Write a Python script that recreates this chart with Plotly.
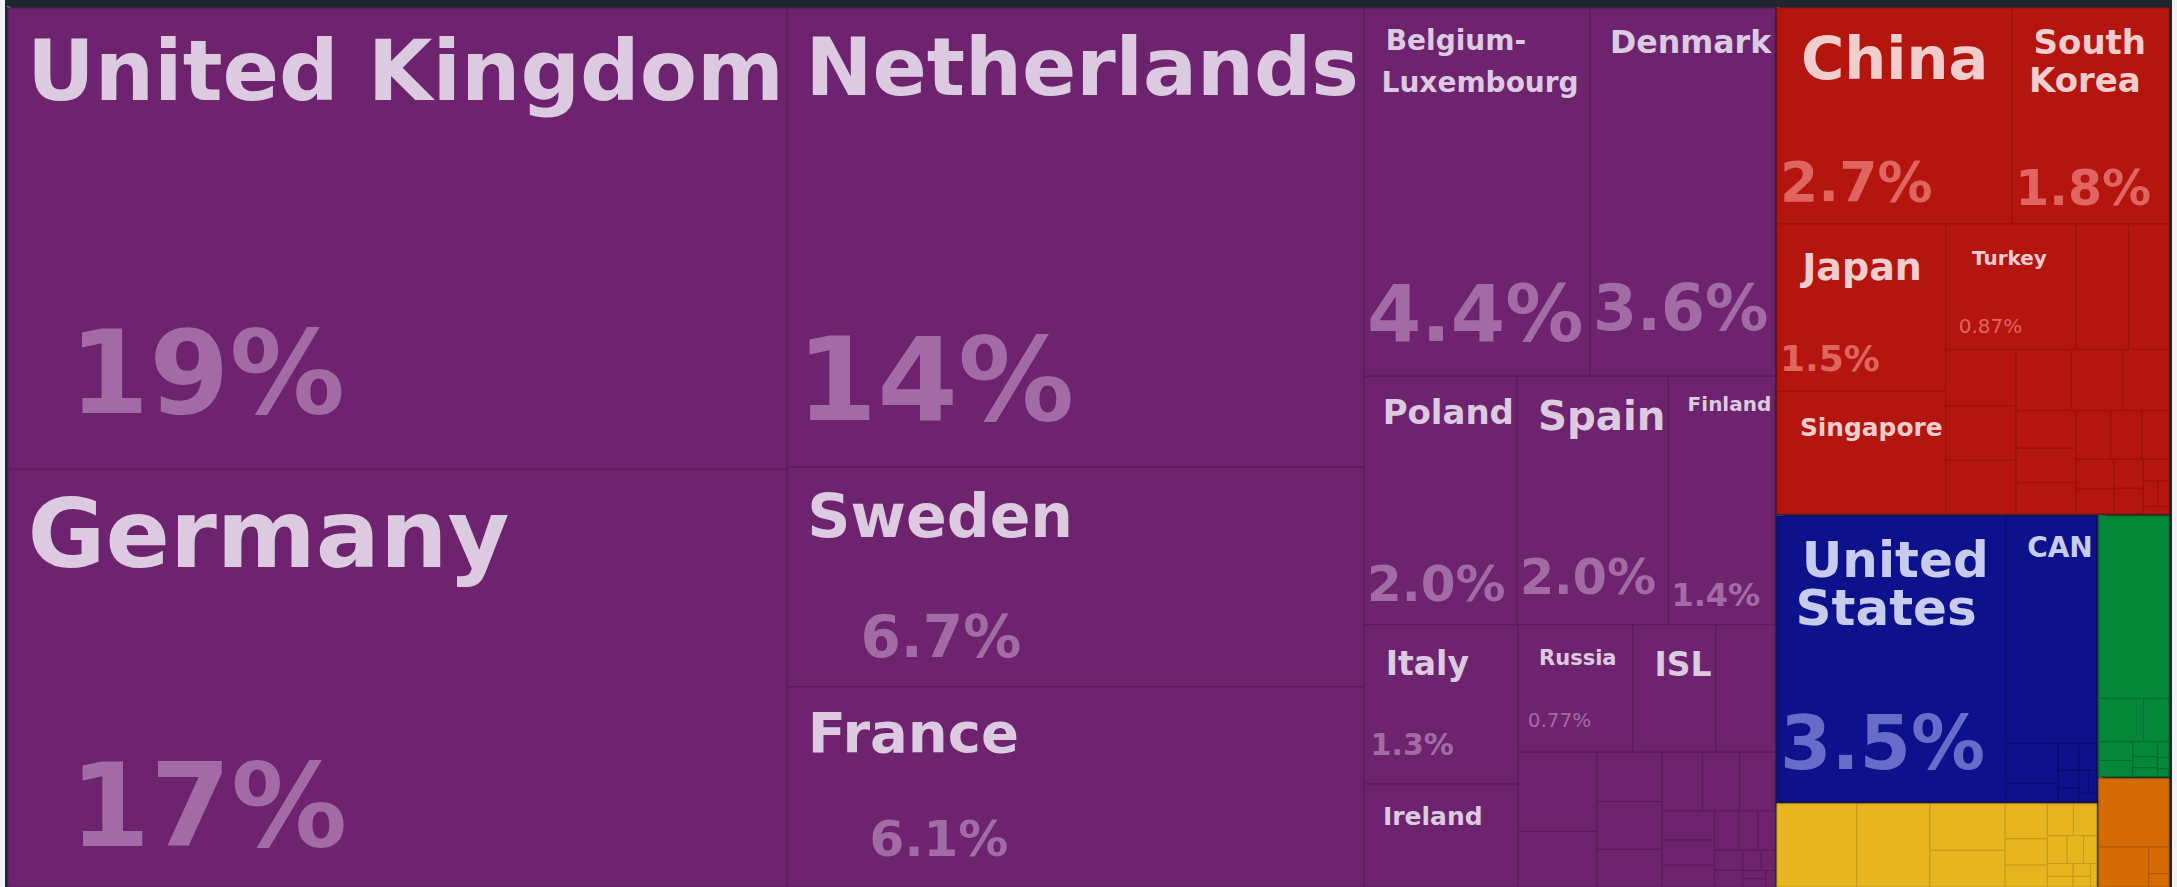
import math
import plotly.graph_objects as go

# ---------------- data ----------------
root_name = "World"
regions = ["Europe", "Asia", "North America", "Africa", "South America", "Oceania"]

europe_countries = ["United Kingdom", "Germany", "Netherlands", "Sweden", "France",
                    "Belgium-Luxembourg", "Denmark", "Poland", "Spain", "Finland", "Italy",
                    "Ireland", "Russia", "Iceland", "Switzerland", "Portugal", "Austria",
                    "Lithuania", "Estonia", "Latvia", "Czechia", "Greece", "Ukraine",
                    "Hungary", "Romania", "Slovakia", "Croatia", "Malta", "Slovenia",
                    "Bulgaria", "Gibraltar", "Belarus", "Serbia", "Albania",
                    "Bosnia and Herzegovina", "Moldova"]
europe_values = [19.0, 17.2, 14.0, 6.7, 6.1,
                 4.4, 3.6, 2.01, 1.99, 1.4, 1.3,
                 0.84, 0.77, 0.56, 0.40, 0.33, 0.23,
                 0.17, 0.165, 0.13, 0.125, 0.115, 0.11,
                 0.08, 0.07, 0.06, 0.05, 0.04, 0.035,
                 0.03, 0.025, 0.02, 0.015, 0.01,
                 0.01, 0.008]

asia_countries = ["China", "South Korea", "Japan", "Singapore", "Turkey", "India",
                  "Hong Kong", "Taiwan", "Israel", "Thailand", "Saudi Arabia", "Malaysia",
                  "Indonesia", "United Arab Emirates", "Iran", "Philippines", "Pakistan",
                  "Vietnam", "Kuwait", "Qatar", "Bangladesh", "Sri Lanka", "Jordan",
                  "Oman", "Lebanon", "Cyprus", "Syria"]
asia_values = [2.7, 1.8, 1.5, 1.1, 0.87, 0.35,
               0.27, 0.21, 0.205, 0.20, 0.18, 0.167,
               0.15, 0.12, 0.11, 0.10, 0.09,
               0.08, 0.07, 0.06, 0.05, 0.045, 0.04,
               0.03, 0.02, 0.015, 0.01]

north_america_countries = ["United States", "Canada", "Mexico", "Panama", "Costa Rica",
                           "Guatemala", "Dominican Republic", "Jamaica",
                           "Trinidad and Tobago", "Honduras", "Cuba"]
north_america_values = [3.5, 1.1, 0.11, 0.05, 0.03,
                        0.025, 0.02, 0.015,
                        0.012, 0.01, 0.008]

africa_countries = ["South Africa", "Nigeria", "Egypt", "Morocco", "Algeria", "Angola",
                    "Ghana", "Kenya", "Tunisia", "Cote d'Ivoire", "Senegal", "Cameroon",
                    "Liberia", "Tanzania", "Mozambique", "Namibia", "Gabon"]
africa_values = [0.36, 0.33, 0.19, 0.15, 0.08, 0.06,
                 0.05, 0.045, 0.04, 0.03, 0.025, 0.02,
                 0.018, 0.015, 0.012, 0.01, 0.008]

south_america_countries = ["Brazil", "Chile", "Argentina", "Venezuela", "Colombia", "Peru",
                           "Ecuador", "Uruguay", "Guyana", "Paraguay", "Bolivia"]
south_america_values = [0.70, 0.106, 0.06, 0.035, 0.03, 0.02,
                        0.015, 0.012, 0.01, 0.007, 0.005]

oceania_countries = ["Australia", "New Zealand", "Papua New Guinea", "Fiji"]
oceania_values = [0.265, 0.11, 0.03, 0.015]

region_members = {
    "Europe": (europe_countries, europe_values),
    "Asia": (asia_countries, asia_values),
    "North America": (north_america_countries, north_america_values),
    "Africa": (africa_countries, africa_values),
    "South America": (south_america_countries, south_america_values),
    "Oceania": (oceania_countries, oceania_values),
}

# display text for labelled tiles
short_names = {"Iceland": "ISL", "Canada": "CAN"}
wrapped_names = {"Belgium-Luxembourg": ["Belgium-", "Luxembourg"],
                 "South Korea": ["South", "Korea"],
                 "United States": ["United", "States"]}

# ---------------- styles ----------------
frame_color = "#20262e"
page_color = "#f1f1f4"
region_fill = {"Europe": "#6e236f", "Asia": "#b5150f", "North America": "#0d118b",
               "Africa": "#e7b520", "South America": "#05873a", "Oceania": "#d46b03"}
region_line = {"Europe": "#5a1b5c", "Asia": "#9a110b", "North America": "#0a0d6c",
               "Africa": "#c99a18", "South America": "#046a2d", "Oceania": "#ad5702"}
name_color = {"Europe": "#dccae0", "Asia": "#f1cdcd", "North America": "#c8ccec",
              "Africa": "#fff3d0", "South America": "#cdeed8", "Oceania": "#ffe0c0"}
pct_color = {"Europe": "#a36ba5", "Asia": "#e0645f", "North America": "#666cc8",
             "Africa": "#f4d070", "South America": "#60c080", "Oceania": "#f0a050"}

# name px, pct px (0 = none), line spacing px, blank lines before pct,
# first-line strut px, name indent px, pct indent px, bold pct
label_styles = {
    "United Kingdom": (84, 116, 121, 2, 97, 7, 64, True),
    "Germany": (95, 116, 107, 2, 102, 7, 64, True),
    "Netherlands": (80, 116, 125, 2, 90, 7, 7, True),
    "Sweden": (60, 58, 46, 2, 72, 11, 77, True),
    "France": (56, 50, 40, 2, 67, 12, 87, True),
    "Belgium-Luxembourg": (28, 78, 32, 6, 42, 16, 0, True),
    "Denmark": (32, 64, 108, 2, 45, 14, 0, True),
    "Poland": (34, 50, 68, 2, 48, 12, 0, True),
    "Spain": (41, 50, 64, 2, 56, 14, 0, True),
    "Finland": (20, 32, 75, 2, 34, 14, 0, True),
    "Italy": (33, 30, 31, 2, 51, 15, 4, True),
    "Ireland": (25, 0, 25, 0, 41, 13, 0, True),
    "Russia": (21, 20, 24, 2, 40, 15, 7, False),
    "Iceland": (33, 0, 33, 0, 52, 15, 0, True),
    "China": (59, 55, 47, 2, 73, 15, 0, True),
    "South Korea": (34, 49, 29, 3, 46, 15, 0, True),
    "Japan": (38, 36, 35, 2, 57, 18, 0, True),
    "Singapore": (25, 0, 25, 0, 45, 17, 0, True),
    "Turkey": (20, 20, 26, 2, 41, 21, 11, False),
    "United States": (50, 74, 37, 3, 62, 17, 0, True),
    "Canada": (28, 0, 28, 0, 41, 15, 0, True),
}

NBSP_EM = 0.348  # advance of a no-break space in DejaVu Sans Bold


def indent(px, size):
    if px <= 0:
        return ""
    n = max(1, math.ceil(px / (NBSP_EM * size)))
    fs = px / (NBSP_EM * n)
    return '<span style="font-size:%.1fpx">%s</span>' % (fs, "&nbsp;" * n)


def strut(px):
    return '<span style="font-size:%dpx">\u200a</span>' % px


def make_template(country, region):
    if country not in label_styles:
        return ""
    npx, ppx, lh, gap, push, nind, pind, pbold = label_styles[country]
    lines = wrapped_names.get(country, [short_names.get(country, country)])
    parts = []
    for i, ln in enumerate(lines):
        lead = strut(push) if i == 0 else ""
        parts.append(lead + indent(nind, npx) +
                     '<span style="font-size:%dpx;color:%s"><b>%s</b></span>'
                     % (npx, name_color[region], ln))
    s = "<br>".join(parts)
    if ppx:
        pct = "%{percentRoot:.2p}"
        if pbold:
            pct = "<b>" + pct + "</b>"
        s += "<br>" * gap + indent(pind, ppx) + \
            '<span style="font-size:%dpx;color:%s">%s</span>' % (ppx, pct_color[region], pct)
    return s


def base_size(country):
    if country in label_styles:
        return label_styles[country][2]
    return 12


ids, labels, parents, values = [root_name], [root_name], [""], [0]
colors, line_colors, line_widths = [frame_color], [frame_color], [0]
templates, sizes = [""], [12]

for reg in regions:
    ids.append(reg)
    labels.append(reg)
    parents.append(root_name)
    values.append(0)
    colors.append(frame_color)
    line_colors.append(frame_color)
    line_widths.append(0)
    templates.append("")
    sizes.append(12)
    names, vals = region_members[reg]
    for c, v in zip(names, vals):
        ids.append(reg + "/" + c)
        labels.append(c)
        parents.append(reg)
        values.append(v)
        colors.append(region_fill[reg])
        line_colors.append(region_line[reg])
        line_widths.append(1)
        templates.append(make_template(c, reg))
        sizes.append(base_size(c))

fig = go.Figure(go.Treemap(
    ids=ids,
    labels=labels,
    parents=parents,
    values=values,
    branchvalues="remainder",
    sort=True,
    marker=dict(colors=colors,
                line=dict(color=line_colors, width=line_widths),
                pad=dict(t=1, l=1, r=1, b=1),
                depthfade=False),
    tiling=dict(packing="squarify", squarifyratio=1.618034, pad=0),
    pathbar=dict(visible=False),
    textinfo="none",
    texttemplate=templates,
    textposition="top left",
    textfont=dict(family="DejaVu Sans", size=sizes, color="#ffffff"),
    hovertemplate="%{label}<br>%{percentRoot:.2p}<extra></extra>",
))

fig.update_layout(
    width=2167,
    height=889,
    margin=dict(l=1, r=1, t=6, b=0),
    paper_bgcolor=frame_color,
    plot_bgcolor=frame_color,
    showlegend=False,
)

post = ("document.body.style.margin='0 0 0 5px';"
        "document.body.style.background='%s';"
        "document.body.style.overflow='hidden';"
        "document.documentElement.style.overflow='hidden';" % page_color)

fig.write_html("out.html", config={"displayModeBar": False}, post_script=post)
